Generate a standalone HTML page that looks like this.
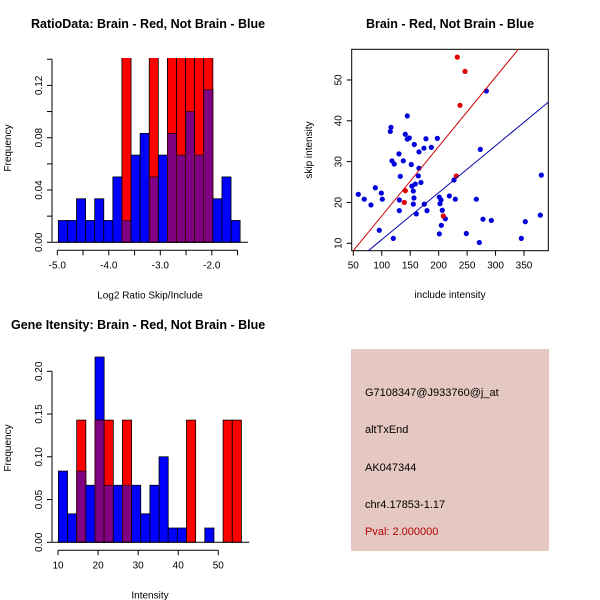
<!DOCTYPE html>
<html><head><meta charset="utf-8">
<style>
body{margin:0;background:#fff;}
svg{display:block;font-family:"Liberation Sans",Arial,sans-serif;}
.t{font-size:12.5px;font-weight:bold;}
.a{font-size:10px;}
.k{font-size:11px;}
</style></head>
<body>
<svg id="s" width="600" height="600" viewBox="0 0 600 600">
<rect width="600" height="600" fill="#fff"/>
<text class="t" x="31" y="28">RatioData: Brain - Red, Not Brain - Blue</text>
<text class="t" x="450" y="28" text-anchor="middle">Brain - Red, Not Brain - Blue</text>
<text class="t" x="11" y="329">Gene Itensity: Brain - Red, Not Brain - Blue</text>
<g id="g1"></g>
<g id="g2"></g>
<g id="g3"></g>
<g>
<rect x="351" y="349" width="198" height="202" fill="#E6C8C2"/>
<text class="k" x="365" y="396">G7108347@J933760@j_at</text>
<text class="k" x="365" y="433">altTxEnd</text>
<text class="k" x="365" y="471">AK047344</text>
<text class="k" x="365" y="508">chr4.17853-1.17</text>
<text class="k" x="365" y="535" fill="#B00000">Pval: 2.000000</text>
</g>
</svg>
<script>
// ratio histogram data
const ratioStart = -4.98, ratioBinW = 0.1765;
const ratioBlue = [0.0167,0.0167,0.0333,0.0167,0.0333,0.0167,0.05,0.0167,0.0667,0.0833,0.05,0.0667,0.0833,0.0667,0.1,0.0667,0.1167,0.0333,0.05,0.0167];
const ratioRed = [0,0,0,0,0,0,0,0.1429,0,0,0.1429,0,0.1429,0.1429,0.1429,0.1429,0.1429,0,0,0];
const ratioXTicks = [-5,-4.5,-4,-3.5,-3,-2.5,-2,-1.5];
const ratioXLabels = ["-5.0","","-4.0","","-3.0","","-2.0",""];
const ratioYTicks = [0,0.02,0.04,0.06,0.08,0.1,0.12,0.14];
const ratioYLabels = ["0.00","","0.04","","0.08","","0.12",""];
// intensity histogram data
const intStart = 10.1, intBinW = 2.283;
const intBlue = [0.0833,0.0333,0.0833,0.0667,0.2167,0.0667,0.0667,0.0667,0.0667,0.0333,0.0667,0.1,0.0167,0.0167,0,0,0.0167,0,0,0];
const intRed = [0,0,0.1429,0,0.1429,0.1429,0,0.1429,0,0,0,0,0,0,0.1429,0,0,0,0.1429,0.1429];
const intXTicks = [10,20,30,40,50];
const intYTicks = [0,0.05,0.1,0.15,0.2];
const intYLabels = ["0.00","0.05","0.10","0.15","0.20"];
// scatter data
const blueInc = [58.8,69.3,81,88.7,95.7,99.2,101,115,116.2,118,120.3,122,130.3,130.9,130.9,132.6,137.9,141.4,144.9,144.9,148.4,151.9,153,155.5,155.5,156.6,157.2,159,160.7,164.3,165.4,165.4,168.9,174.2,174.8,177.7,179.5,187.1,197.7,201.2,201.2,202.3,204.1,204.7,206.4,211.7,218.8,227,229.3,248.6,266.2,271.5,273.2,277.9,283.8,292.6,345.3,352.3,378.7,380.5];
const blueSkip = [22.0,20.8,19.4,23.6,13.2,22.3,20.8,37.4,38.4,30.2,11.2,29.4,31.9,20.6,18.0,26.4,30.2,36.7,41.2,35.5,35.8,29.3,24.0,22.8,19.6,21.1,34.2,24.5,17.2,26.5,28.4,32.4,24.9,33.3,19.6,35.6,18.0,33.5,35.7,21.3,12.3,19.7,20.6,14.4,18.1,16.0,21.6,25.5,20.8,12.4,20.8,10.2,33.0,15.9,47.3,15.6,11.2,15.3,16.9,26.7];
const redInc = [232.8,246.3,237.5,231,141.4,139.6,208.2];
const redSkip = [55.6,52.1,43.8,26.5,22.9,20.0,16.7];
const redFit = [-0.3,0.17];   // intercept, slope
const blueFit = [-0.6,0.115];
const scXTicks = [50,100,150,200,250,300,350];
const scYTicks = [10,20,30,40,50];

const NS="http://www.w3.org/2000/svg";
function mk(p,tag,at){const e=document.createElementNS(NS,tag);for(const k in at)e.setAttribute(k,at[k]);p.appendChild(e);return e;}

function hist(g,o){
  const X=v=>o.x0+(v-o.xv0)*o.xs, Y=v=>o.y0-v*o.ys;
  const cid=o.id+"clip";
  const cp=mk(g,"clipPath",{id:cid});mk(cp,"rect",{x:0,y:o.top,width:600,height:600});
  const bars=mk(g,"g",{"clip-path":"url(#"+cid+")"});
  for(let i=0;i<o.blue.length;i++){
    const a=X(o.start+i*o.bw), b=X(o.start+(i+1)*o.bw);
    const bl=o.blue[i], rd=o.red[i];
    if(bl>0){const r=mk(bars,"rect",{x:a,y:Y(bl),width:b-a,height:Y(0)-Y(bl),fill:"#0000FF",stroke:"#000","stroke-width":0.8});
      
      }
    if(rd>0){const r=mk(bars,"rect",{x:a,y:Y(rd),width:b-a,height:Y(0)-Y(rd),fill:"#FF0000",stroke:"#000","stroke-width":0.8});
      
      
      const m=Math.min(bl,rd);
      if(m>0){const p=mk(bars,"rect",{x:a,y:Y(m),width:b-a,height:Y(0)-Y(m),fill:"#7F0080",stroke:"#3a0000","stroke-width":0.8});
        
        }
    }
  }
  const yT=o.yt;
  mk(g,"line",{x1:o.ax,x2:o.ax,y1:Y(yT[0]),y2:Y(yT[yT.length-1]),stroke:"#000"});
  yT.forEach((v,i)=>{mk(g,"line",{x1:o.ax-5,x2:o.ax,y1:Y(v),y2:Y(v),stroke:"#000"});
    if(o.yl[i]){const t=mk(g,"text",{class:"a",x:0,y:0,"text-anchor":"middle",transform:`translate(${o.ax-10},${Y(v)}) rotate(-90)`});t.textContent=o.yl[i];}});
  const xT=o.xt, ay=o.y0+8;
  mk(g,"line",{x1:X(xT[0]),x2:X(xT[xT.length-1]),y1:ay,y2:ay,stroke:"#000"});
  xT.forEach((v,i)=>{mk(g,"line",{x1:X(v),x2:X(v),y1:ay,y2:ay+5,stroke:"#000"});
    if(o.xl[i]){const t=mk(g,"text",{class:"a",x:X(v),y:ay+18,"text-anchor":"middle"});t.textContent=o.xl[i];}});
  mk(g,"line",{x1:X(o.start)-6,x2:X(o.start+o.blue.length*o.bw)+8,y1:o.y0,y2:o.y0,stroke:"#000"});
  const xl=mk(g,"text",{class:"a",x:o.xlx,y:o.y0+56,"text-anchor":"middle"});xl.textContent=o.xlab;
  const yl=mk(g,"text",{class:"a",x:0,y:0,"text-anchor":"middle",transform:`translate(11,${o.ylY}) rotate(-90)`});yl.textContent="Frequency";
}

hist(document.getElementById("g1"),{id:"h1",x0:57.3,xv0:-5,xs:51.5,y0:242.3,ys:1307.5,top:58,start:ratioStart,bw:ratioBinW,
  blue:ratioBlue,red:ratioRed,xt:ratioXTicks,xl:ratioXLabels,yt:ratioYTicks,yl:ratioYLabels,ax:52,xlab:"Log2 Ratio Skip/Include",xlx:150,ylY:148});
hist(document.getElementById("g3"),{id:"h3",x0:58,xv0:10,xs:4.008,y0:542.3,ys:855,top:350,start:intStart,bw:intBinW,
  blue:intBlue,red:intRed,xt:intXTicks,xl:["10","20","30","40","50"],yt:intYTicks,yl:intYLabels,ax:52,xlab:"Intensity",xlx:150,ylY:448});

(function(){
  const g=document.getElementById("g2");
  const X=v=>353.3+(v-50)*0.569, Y=v=>243.3-(v-10)*4.083;
  const L=351.7,R=548.3,T=49.3,B=250.7;
  const cp=mk(g,"clipPath",{id:"scclip"});mk(cp,"rect",{x:L,y:T,width:R-L,height:B-T});
  mk(g,"rect",{x:L,y:T,width:R-L,height:B-T,fill:"none",stroke:"#000"});
  const c=mk(g,"g",{"clip-path":"url(#scclip)"});
  for(let i=0;i<blueInc.length;i++){const p=mk(c,"circle",{cx:X(blueInc[i]),cy:Y(blueSkip[i]),r:2.6,fill:"#0000DD"});
    
    }
  for(let i=0;i<redInc.length;i++){const p=mk(c,"circle",{cx:X(redInc[i]),cy:Y(redSkip[i]),r:2.6,fill:"#DD0000"});
    
    }
  const fx=[0,500];
  const rl=mk(c,"line",{x1:X(fx[0]),y1:Y(redFit[0]+redFit[1]*fx[0]),x2:X(fx[1]),y2:Y(redFit[0]+redFit[1]*fx[1]),stroke:"#CC0000","stroke-width":1});
  
  
  const bl=mk(c,"line",{x1:X(fx[0]),y1:Y(blueFit[0]+blueFit[1]*fx[0]),x2:X(fx[1]),y2:Y(blueFit[0]+blueFit[1]*fx[1]),stroke:"#0000AA","stroke-width":1});
  
  
  scXTicks.forEach(v=>{mk(g,"line",{x1:X(v),x2:X(v),y1:B,y2:B+5,stroke:"#000"});
    const t=mk(g,"text",{class:"a",x:X(v),y:B+18,"text-anchor":"middle"});t.textContent=v;});
  scYTicks.forEach(v=>{mk(g,"line",{x1:L-5,x2:L,y1:Y(v),y2:Y(v),stroke:"#000"});
    const t=mk(g,"text",{class:"a",x:0,y:0,"text-anchor":"middle",transform:`translate(${L-10},${Y(v)}) rotate(-90)`});t.textContent=v;});
  const xl=mk(g,"text",{class:"a",x:450,y:298,"text-anchor":"middle"});xl.textContent="include intensity";
  const yl=mk(g,"text",{class:"a",x:0,y:0,"text-anchor":"middle",transform:"translate(312,150) rotate(-90)"});yl.textContent="skip intensity";
})();
</script>
</body></html>
